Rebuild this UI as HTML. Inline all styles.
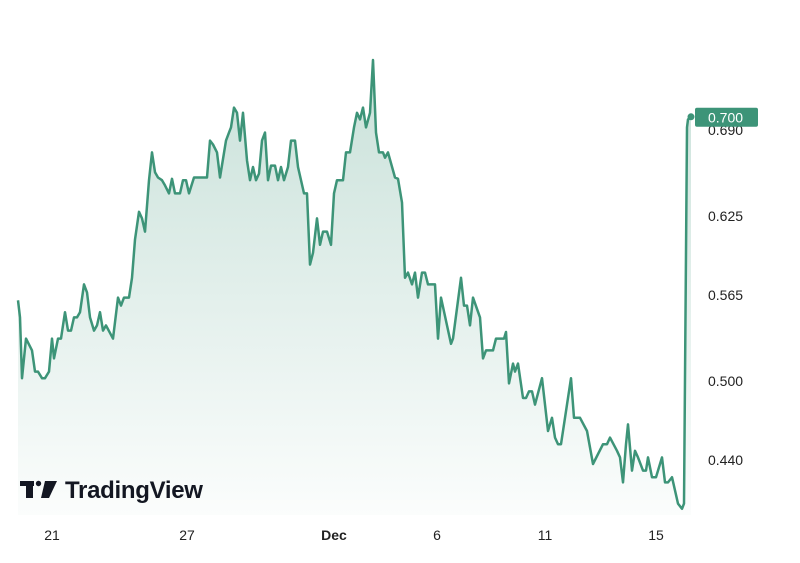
<!DOCTYPE html>
<html><head><meta charset="utf-8"><style>
html,body{margin:0;padding:0;background:#fff;}
svg{display:block;font-family:"Liberation Sans",sans-serif;}
</style></head><body>
<svg id="chart" width="800" height="563">
<defs><linearGradient id="fillg" x1="0" y1="0" x2="0" y2="1">
<stop offset="0" stop-color="#3d9478" stop-opacity="0.28"/>
<stop offset="1" stop-color="#3d9478" stop-opacity="0.02"/>
</linearGradient></defs>
<g id="plot"></g>
<g id="yaxis"></g>
<g id="xaxis"></g>
<g>
<rect x="20" y="481" width="14" height="5" fill="#131722"/>
<rect x="26" y="481" width="7" height="17" fill="#131722"/>
<circle cx="38.5" cy="483.5" r="2.7" fill="#131722"/>
<polygon points="45,481 57,481 49,498 41,498" fill="#131722"/>
<text x="65" y="498" font-size="24" font-weight="bold" fill="#131722" letter-spacing="-0.3">TradingView</text>
</g>
</svg>
<script>
const hours=[0,2,4,8,14,17,20,24,27,31,34,36,40,43,47,50,53,56,59,62,66,69,72,76,79,82,85,88,95,100,103,106,111,114,117,121,124,127,131,134,137,140,144,147,151,154,157,162,165,168,171,176,184,189,192,195,199,202,208,211,213,216,219,222,225,229,232,235,238,241,244,247,250,253,257,260,263,266,270,273,277,280,286,289,292,295,299,302,305,309,313,316,319,325,328,332,336,339,342,345,348,352,355,358,361,365,367,370,377,380,384,387,390,394,397,400,404,407,410,417,420,423,429,433,435,443,446,449,452,455,462,465,468,475,478,486,488,491,495,497,500,505,508,511,514,517,524,530,534,537,540,543,547,549,553,556,562,569,575,585,589,592,599,602,605,608,610,614,617,620,625,628,630,634,638,644,647,650,654,660,664,666,669,670,673];
const values=[0.561,0.548,0.502,0.532,0.523,0.507,0.507,0.502,0.502,0.507,0.532,0.517,0.532,0.532,0.552,0.538,0.538,0.548,0.548,0.552,0.573,0.567,0.548,0.538,0.542,0.552,0.538,0.542,0.532,0.563,0.557,0.563,0.563,0.578,0.607,0.628,0.623,0.613,0.652,0.673,0.658,0.654,0.652,0.648,0.642,0.653,0.642,0.642,0.652,0.652,0.642,0.654,0.654,0.654,0.682,0.679,0.673,0.654,0.682,0.688,0.692,0.707,0.703,0.682,0.703,0.667,0.652,0.662,0.652,0.657,0.682,0.688,0.652,0.663,0.663,0.652,0.662,0.652,0.662,0.682,0.682,0.662,0.642,0.642,0.588,0.597,0.623,0.603,0.613,0.613,0.603,0.642,0.652,0.652,0.673,0.673,0.692,0.703,0.698,0.707,0.692,0.703,0.743,0.688,0.673,0.673,0.669,0.673,0.654,0.653,0.635,0.578,0.582,0.573,0.582,0.563,0.582,0.582,0.573,0.573,0.532,0.563,0.542,0.528,0.532,0.578,0.557,0.557,0.542,0.563,0.548,0.517,0.523,0.523,0.532,0.532,0.537,0.498,0.513,0.507,0.513,0.487,0.487,0.492,0.492,0.482,0.502,0.462,0.472,0.457,0.452,0.452,0.472,0.482,0.502,0.472,0.472,0.462,0.437,0.452,0.452,0.457,0.447,0.442,0.423,0.452,0.467,0.432,0.447,0.442,0.432,0.432,0.442,0.427,0.427,0.442,0.423,0.423,0.427,0.407,0.403,0.407,0.692,0.698,0.700];
const yTicks=[0.44,0.5,0.565,0.625,0.69];
const yTickLabels=["0.440","0.500","0.565","0.625","0.690"];
const xTickHours=[34,169,316,419,527,638];
const xTickLabels=["21","27","Dec","6","11","15"];
const NS="http://www.w3.org/2000/svg";
function xs(h){return 18+h*(673/673);}
function ys(v){return 460-(v-0.44)*1320;}
const plot=document.getElementById('plot');
let d='';
hours.forEach((h,i)=>{d+=(i?'L':'M')+xs(h).toFixed(1)+','+ys(values[i]).toFixed(1);});
const area=document.createElementNS(NS,'path');
area.setAttribute('d',d+'L'+xs(hours[hours.length-1])+',515L'+xs(hours[0])+',515Z');
area.setAttribute('fill','url(#fillg)');


plot.appendChild(area);
const line=document.createElementNS(NS,'path');
line.setAttribute('d',d);
line.setAttribute('fill','none');line.setAttribute('stroke','#3d9478');
line.setAttribute('stroke-width','2.5');line.setAttribute('stroke-linejoin','round');


plot.appendChild(line);
const lx=xs(hours[hours.length-1]),lv=values[values.length-1],ly=ys(lv);
const dot=document.createElementNS(NS,'circle');
dot.setAttribute('cx',lx);dot.setAttribute('cy',ly);dot.setAttribute('r','3.5');dot.setAttribute('fill','#3d9478');


plot.appendChild(dot);
const ya=document.getElementById('yaxis');
yTicks.forEach((v,i)=>{const t=document.createElementNS(NS,'text');
t.setAttribute('x','708');t.setAttribute('y',ys(v)+5);t.setAttribute('font-size','14');t.setAttribute('fill','#222');
t.textContent=yTickLabels[i];


ya.appendChild(t);});
const tag=document.createElementNS(NS,'g');


const r=document.createElementNS(NS,'rect');
r.setAttribute('x','695');r.setAttribute('y',ly-9);r.setAttribute('width','63');r.setAttribute('height','19');r.setAttribute('rx','2');r.setAttribute('fill','#3d9478');
tag.appendChild(r);
const tt=document.createElementNS(NS,'text');
tt.setAttribute('x','708');tt.setAttribute('y',ly+5.5);tt.setAttribute('font-size','14');tt.setAttribute('fill','#fff');
tt.textContent=lv.toFixed(3);tag.appendChild(tt);ya.appendChild(tag);
const xa=document.getElementById('xaxis');
xTickHours.forEach((h,i)=>{const t=document.createElementNS(NS,'text');
t.setAttribute('x',xs(h));t.setAttribute('y','540');t.setAttribute('font-size','14');t.setAttribute('text-anchor','middle');
t.setAttribute('fill','#222');if(xTickLabels[i]==='Dec')t.setAttribute('font-weight','bold');
t.textContent=xTickLabels[i];


xa.appendChild(t);});
</script>
</body></html>
